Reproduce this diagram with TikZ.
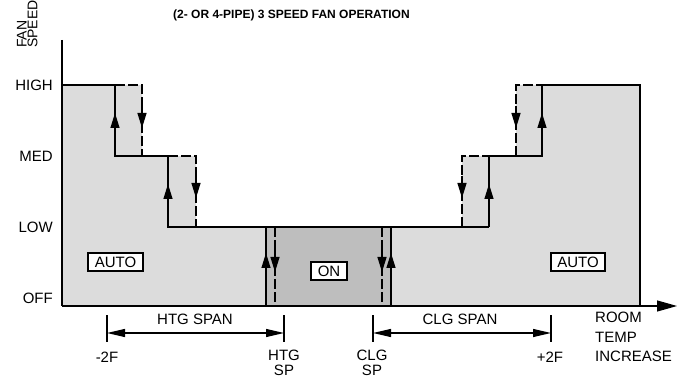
\documentclass[tikz,border=0pt]{standalone}
\usepackage{fontspec}
\setmainfont{Liberation Sans}
\usetikzlibrary{arrows.meta}
\definecolor{lightfill}{RGB}{220,220,220}
\definecolor{darkfill}{RGB}{190,190,190}
\begin{document}
\begin{tikzpicture}[x=1pt,y=-1pt,
  lbl/.style={font=\fontsize{15}{18}\selectfont, inner sep=0pt},
  vlbl/.style={font=\fontsize{14}{16}\selectfont, inner sep=0pt, rotate=90, anchor=base west},
  solidline/.style={line width=1.2pt},
  dashline/.style={line width=1.2pt, dash pattern=on 10pt off 3pt},
  tipline/.style={line width=1.2pt, -{Triangle[width=9pt,length=15pt]}},
  spanline/.style={line width=1.2pt, {Triangle[width=8pt,length=18pt]}-{Triangle[width=8pt,length=18pt]}},
  modebox/.style={draw, fill=white, line width=1.2pt, font=\fontsize{15}{18}\selectfont, inner sep=0pt, minimum height=18pt}
]
\useasboundingbox (0,0) rectangle (685,379);

% fills
\fill[lightfill] (62,85) -- (142,85) -- (142,156) -- (196,156) -- (196,227) -- (462,227) -- (462,156) -- (516,156) -- (516,85) -- (640,85) -- (640,306) -- (62,306) -- cycle;
\fill[darkfill] (266,227) rectangle (391,306);

% left staircase
\draw[solidline] (62,85) -- (115,85) -- (115,156) -- (168,156) -- (168,227) -- (489,227);
\draw[dashline] (115,85) -- (142,85) -- (142,156);
\draw[dashline] (168,156) -- (196,156) -- (196,227);
% right staircase
\draw[solidline] (489,227) -- (489,156) -- (542,156) -- (542,85) -- (640,85) -- (640,306);
\draw[dashline] (462,227) -- (462,156) -- (489,156);
\draw[dashline] (516,156) -- (516,85) -- (542,85);
% centre
\draw[solidline] (266,227) -- (266,306);
\draw[solidline] (391,227) -- (391,306);
\draw[dashline] (275,227) -- (275,306);
\draw[dashline] (382,227) -- (382,306);

% arrows on steps
\draw[tipline] (115,135) -- (115,113);
\draw[tipline] (142,106) -- (142,128);
\draw[tipline] (168,206) -- (168,184);
\draw[tipline] (196,176) -- (196,198);
\draw[tipline] (462,176) -- (462,198);
\draw[tipline] (489,206) -- (489,184);
\draw[tipline] (516,106) -- (516,128);
\draw[tipline] (542,135) -- (542,113);
\draw[tipline] (266,275) -- (266,253);
\draw[tipline] (275,250) -- (275,272);
\draw[tipline] (382,250) -- (382,272);
\draw[tipline] (391,275) -- (391,253);

% axes
\coordinate (ytop) at (62,40);
\coordinate (orig) at (62,306);
\coordinate (xend) at (677,306);
\draw[solidline] (ytop) -- (orig);
\draw[solidline, -{Triangle[width=11pt,length=20pt]}] (orig) -- (xend);

% axis labels
\node[lbl, anchor=east] (high) at (53,85) {HIGH};
\node[lbl, anchor=east] (med) at (53,156) {MED};
\node[lbl, anchor=east] (low) at (53,227) {LOW};
\node[lbl, anchor=east] (off) at (53,298) {OFF};
\node[vlbl] (fan) at (26.7,48) {FAN};
\node[vlbl] (speed) at (37.3,48) {SPEED};
\node[font=\bfseries\fontsize{12}{14}\selectfont, inner sep=0pt, anchor=west] (title) at (173,15) {(2- OR 4-PIPE) 3 SPEED FAN OPERATION};

% mode boxes
\node[modebox, minimum width=55pt] (autol) at (115.5,262) {AUTO};
\node[modebox, minimum width=36pt] (on) at (329,271) {ON};
\node[modebox, minimum width=54pt] (autor) at (578,262) {AUTO};

% spans
\coordinate (m2ft) at (107,315); \coordinate (m2fb) at (107,342);
\coordinate (htgt) at (284,315); \coordinate (htgb) at (284,342);
\coordinate (clgt) at (373,315); \coordinate (clgb) at (373,342);
\coordinate (p2ft) at (551,315); \coordinate (p2fb) at (551,342);
\draw[solidline] (m2ft) -- (m2fb);
\draw[solidline] (htgt) -- (htgb);
\draw[solidline] (clgt) -- (clgb);
\draw[solidline] (p2ft) -- (p2fb);
\coordinate (m2fa) at (107,333); \coordinate (htga) at (284,333);
\coordinate (clga) at (373,333); \coordinate (p2fa) at (551,333);
\draw[spanline] (m2fa) -- (htga);
\draw[spanline] (clga) -- (p2fa);
\node[lbl] (htgspan) at (195,319) {HTG SPAN};
\node[lbl] (clgspan) at (460,319) {CLG SPAN};
\node[lbl] (m2f) at (107,357) {-2F};
\node[lbl] (p2f) at (550,357) {+2F};
\node[lbl, align=center, anchor=north, font=\fontsize{15}{14.5}\selectfont] (htgsp) at (284,350) {HTG\\SP};
\node[lbl, align=center, anchor=north, font=\fontsize{15}{14.5}\selectfont] (clgsp) at (372,350) {CLG\\SP};
\node[lbl, align=left, anchor=north west, font=\fontsize{15}{19.5}\selectfont] (room) at (595,312) {ROOM\\TEMP\\INCREASE};
\end{tikzpicture}
\end{document}
